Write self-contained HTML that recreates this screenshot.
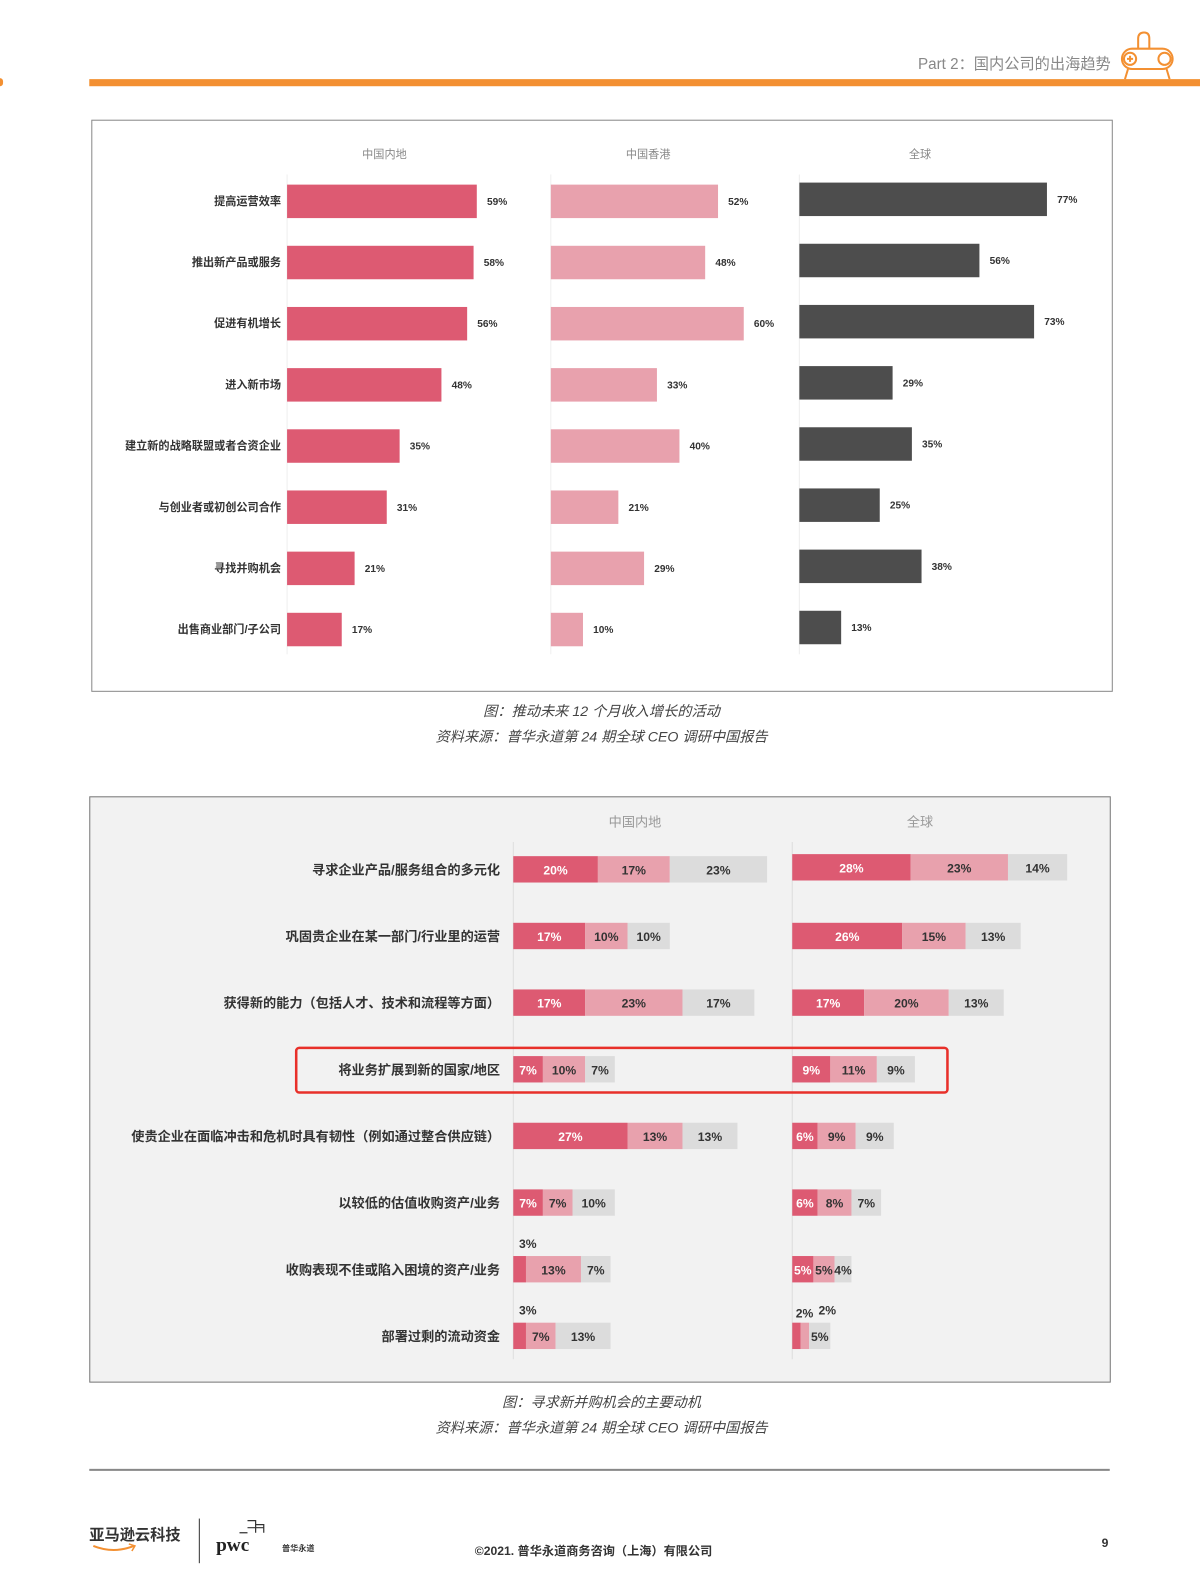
<!DOCTYPE html>
<html><head><meta charset="utf-8">
<style>
body{margin:0;width:1200px;height:1591px;background:#fff;position:relative;overflow:hidden;font-family:"Liberation Sans","Noto Sans CJK SC",sans-serif;}
#root{position:absolute;left:0;top:0;width:1183px;height:1569px;transform:scale(1.0144);transform-origin:0 0;}
.abs{position:absolute;}
.cap{position:absolute;left:0;width:1186px;text-align:center;font-style:italic;color:#444;font-size:14px;}
</style></head><body>
<div id="root">
<div class="abs" style="right:88px;top:52px;color:#888;font-size:15px;">Part 2：国内公司的出海趋势</div>
<div class="abs" style="left:88px;top:78px;width:1112px;height:7px;background:#f39032"></div>
<div class="abs" style="left:-3px;top:77px;width:6px;height:8px;background:#f39032;border-radius:3px"></div>
<svg class="abs" style="left:1100px;top:28px" width="62" height="52" viewBox="0 0 62 52" fill="none" stroke="#f39032" stroke-width="2">
<path d="M22 20 V10 q0-6 6-6 q5 0 5 6 v10"/><rect x="6" y="20" width="50" height="20" rx="10"/><circle cx="14" cy="30" r="6"/><circle cx="48" cy="30" r="6"/><path d="M14 27v6M11 30h6M12 40 l-3 10M50 40 l3 10"/></svg>

<div class="abs" style="left:90px;top:118px;width:1007px;height:564px;border:1px solid #888;box-sizing:border-box;background:#fff"></div>
<svg id="c1" class="abs" style="left:0;top:0" width="1200" height="700"></svg>
<div class="cap" style="top:691px">图：推动未来 12 个月收入增长的活动</div>
<div class="cap" style="top:716px">资料来源：普华永道第 24 期全球 CEO 调研中国报告</div>

<div class="abs" style="left:88px;top:785px;width:1007px;height:578px;border:1px solid #777;box-sizing:border-box;background:#f2f2f2"></div>
<svg id="c2" class="abs" style="left:0;top:0" width="1200" height="1400"></svg>
<div class="cap" style="top:1372px">图：寻求新并购机会的主要动机</div>
<div class="cap" style="top:1397px">资料来源：普华永道第 24 期全球 CEO 调研中国报告</div>

<div class="abs" style="left:88px;top:1448px;width:1006px;height:2px;background:#888"></div>
<div class="abs" style="left:88px;top:1502px;font-size:15px;font-weight:bold;color:#333">亚马逊云科技</div>
<svg class="abs" style="left:90px;top:1521px" width="50" height="12"><path d="M2 3 q20 8 40 0" stroke="#f39032" stroke-width="2" fill="none"/><path d="M37 1 l6 2 -3 5" stroke="#f39032" stroke-width="1.5" fill="none"/></svg>
<div class="abs" style="left:196px;top:1497px;width:1px;height:44px;background:#333"></div>
<div class="abs" style="left:213px;top:1513px;font-family:'Liberation Serif',serif;font-weight:bold;font-size:19px;color:#222">pwc</div>
<svg class="abs" style="left:236px;top:1497px" width="28" height="18" fill="none" stroke="#333" stroke-width="1.2"><path d="M0 14h8M8 2h8v12M16 6h8v8M8 9h16"/></svg>
<div class="abs" style="left:278px;top:1521px;font-size:8px;font-weight:bold;color:#333">普华永道</div>
<div class="abs" style="left:468px;top:1520px;font-size:12px;font-weight:bold;color:#333">©2021. 普华永道商务咨询（上海）有限公司</div>
<div class="abs" style="left:1086px;top:1514px;font-size:12px;font-weight:bold;color:#333">9</div>
</div>

<script>
const NS='http://www.w3.org/2000/svg';
function mk(p,tag,at,txt){const e=document.createElementNS(NS,tag);for(const k in at)e.setAttribute(k,at[k]);if(txt!=null)e.textContent=txt;p.appendChild(e);return e;}

// Chart 1 data
const c1Categories=['提高运营效率','推出新产品或服务','促进有机增长','进入新市场','建立新的战略联盟或者合资企业','与创业者或初创公司合作','寻找并购机会','出售商业部门/子公司'];
const c1Panels=['中国内地','中国香港','全球'];
const c1Mainland=[59,58,56,48,35,31,21,17];
const c1HongKong=[52,48,60,33,40,21,29,10];
const c1Global=[77,56,73,29,35,25,38,13];

const c1=document.getElementById('c1');
const c1X0=[283,543,788], c1Scale=3.17, c1Colors=['#dd5a72','#e8a1ad','#4d4d4d'];
const c1Y=i=>198+i*60.3;
const c1Series=[c1Mainland,c1HongKong,c1Global];
c1Panels.forEach((p,k)=>{
  const t=mk(c1,'text',{x:c1X0[k]+(k==2?119:96),y:156,'text-anchor':'middle','font-size':11,fill:'#888'},p);
  
  
  const ax=mk(c1,'line',{x1:c1X0[k],x2:c1X0[k],y1:172,y2:645,stroke:'#eee'});
  
  
});
c1Categories.forEach((c,i)=>{
  const y=c1Y(i);
  const l=mk(c1,'text',{x:277,y:y+4,'text-anchor':'end','font-size':11,'font-weight':'bold',fill:'#333'},c);
  
  
  c1Series.forEach((s,k)=>{
    const w=s[i]*c1Scale, yy=y-16-(k==2?2:0);
    const r=mk(c1,'rect',{x:c1X0[k],y:yy,width:w,height:33,fill:c1Colors[k]});
    
    
    const v=mk(c1,'text',{x:c1X0[k]+w+10,y:yy+20,'font-size':10,'font-weight':'bold',fill:'#333'},s[i]+'%');
    
    
  });
});

// Chart 2 data
const c2Categories=['寻求企业产品/服务组合的多元化','巩固贵企业在某一部门/行业里的运营','获得新的能力（包括人才、技术和流程等方面）','将业务扩展到新的国家/地区','使贵企业在面临冲击和危机时具有韧性（例如通过整合供应链）','以较低的估值收购资产/业务','收购表现不佳或陷入困境的资产/业务','部署过剩的流动资金'];
const c2Panels=['中国内地','全球'];
const c2MainlandA=[20,17,17,7,27,7,3,3];
const c2MainlandB=[17,10,23,10,13,7,13,7];
const c2MainlandC=[23,10,17,7,13,10,7,13];
const c2GlobalA=[28,26,17,9,6,6,5,2];
const c2GlobalB=[23,15,20,11,9,8,5,2];
const c2GlobalC=[14,13,13,9,9,7,4,5];

const c2=document.getElementById('c2');
const c2X0=[506,781], c2Scale=4.17, c2Colors=['#dd5a72','#e8a1ad','#dcdcdc'];
const c2Y=i=>857+i*65.7;
const c2Series=[[c2MainlandA,c2MainlandB,c2MainlandC],[c2GlobalA,c2GlobalB,c2GlobalC]];
c2Panels.forEach((p,k)=>{
  const t=mk(c2,'text',{x:k?907:626,y:815,'text-anchor':'middle','font-size':13,fill:'#999'},p);
  
  
  const ax=mk(c2,'line',{x1:c2X0[k],x2:c2X0[k],y1:830,y2:1340,stroke:'#ddd'});
  
  
});
c2Categories.forEach((c,i)=>{
  const y=c2Y(i);
  const l=mk(c2,'text',{x:493,y:y+5,'text-anchor':'end','font-size':13,'font-weight':'bold',fill:'#333'},c);
  
  
  c2Series.forEach((ser,k)=>{
    let x=c2X0[k]; const yy=y-13-(k==1&&i==0?2:0);
    ser.forEach((s,j)=>{
      const w=s[i]*c2Scale;
      const r=mk(c2,'rect',{x:x,y:yy,width:w,height:26,fill:c2Colors[j]});
      
      
      let tx=x+w/2, ty=yy+18, fill=j==0?'#fff':'#333';
      if(s[i]<4){ty=yy-8+(j==0&&k==1?3:0);fill='#333';tx=x+w/2+(j==0?8:22);}
      const v=mk(c2,'text',{x:tx,y:ty,'text-anchor':'middle','font-size':12,'font-weight':'bold',fill:fill},s[i]+'%');
      
      
      x+=w;
    });
  });
});
const hb=mk(c2,'rect',{x:292,y:1033,width:642,height:44,rx:3,fill:'none',stroke:'#e8302a','stroke-width':2.5});


</script>
</body></html>
